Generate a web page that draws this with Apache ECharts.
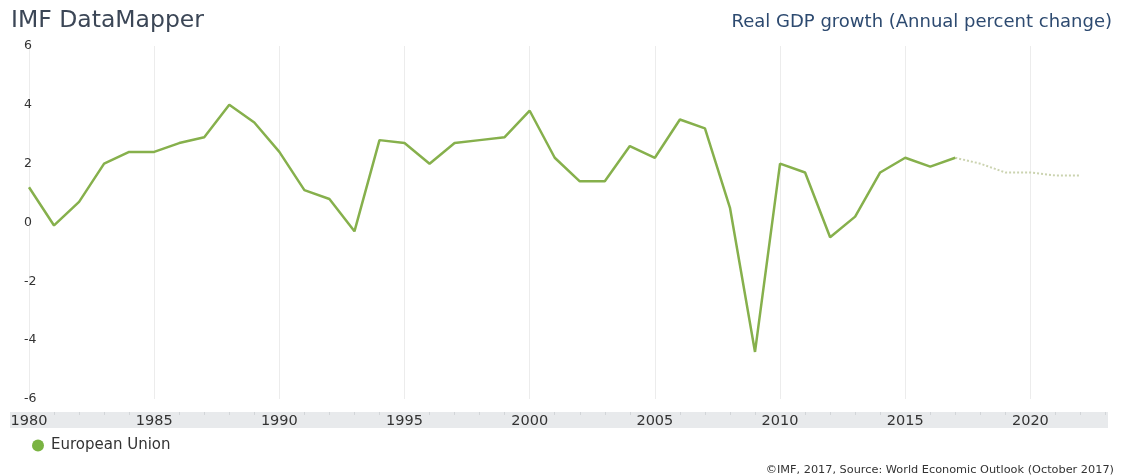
<!DOCTYPE html>
<html>
<head>
<meta charset="utf-8">
<script src="https://cdn.jsdelivr.net/npm/echarts@6/dist/echarts.min.js"></script>
<style>
  html, body { margin: 0; padding: 0; background: #fff; }
  #main { width: 1128px; height: 475px; }
</style>
</head>
<body>
<div id="main"></div>
<script>
  const years = [1980, 1981, 1982, 1983, 1984, 1985, 1986, 1987, 1988, 1989,
    1990, 1991, 1992, 1993, 1994, 1995, 1996, 1997, 1998, 1999,
    2000, 2001, 2002, 2003, 2004, 2005, 2006, 2007, 2008, 2009,
    2010, 2011, 2012, 2013, 2014, 2015, 2016, 2017]
  const growth = [1.2, -0.1, 0.7, 2.0, 2.4, 2.4, 2.7, 2.9, 4.0, 3.4,
    2.4, 1.1, 0.8, -0.3, 2.8, 2.7, 2.0, 2.7, 2.8, 2.9,
    3.8, 2.2, 1.4, 1.4, 2.6, 2.2, 3.5, 3.2, 0.5, -4.4,
    2.0, 1.7, -0.5, 0.2, 1.7, 2.2, 1.9, 2.2]
  const projYears = [2017, 2018, 2019, 2020, 2021, 2022]
  const projGrowth = [2.2, 2.0, 1.7, 1.7, 1.6, 1.6]

  const font = '"DejaVu Sans", "Open Sans", sans-serif'
  const chart = echarts.init(document.getElementById('main'))

  chart.setOption({
    animation: false,
    textStyle: { fontFamily: font },
    title: [
      {
        text: 'IMF DataMapper',
        left: 6, top: 4,
        textStyle: { fontSize: 23.5, fontWeight: 'normal', color: '#3b4656', fontFamily: font },
      },
      {
        text: 'Real GDP growth (Annual percent change)',
        right: 11, top: 8,
        textStyle: { fontSize: 18, fontWeight: 'normal', color: '#2d4a70', fontFamily: font },
      },
      {
        text: '©IMF, 2017, Source: World Economic Outlook (October 2017)',
        right: 9, top: 460,
        textStyle: { fontSize: 11.3, fontWeight: 'normal', color: '#333', fontFamily: font },
      },
    ],
    legend: {
      data: ['European Union'],
      left: 27, top: 433,
      icon: 'circle',
      itemWidth: 16, itemHeight: 12,
      itemGap: 9,
      textStyle: { fontSize: 15, color: '#333', fontFamily: font },
    },
    graphic: [
      {
        type: 'rect',
        shape: { x: 10, y: 412, width: 1098, height: 16 },
        style: { fill: '#e8eaec' },
        z: 0,
      },
    ],
    grid: { left: 29, right: 20, top: 46, bottom: 76 },
    xAxis: {
      type: 'value',
      min: 1980,
      max: 2023.1,
      interval: 5,
      offset: 13,
      axisLine: { show: false, onZero: false },
      axisTick: { show: false },
      minorTick: { show: true, splitNumber: 5, length: 3, lineStyle: { color: '#d2d5d8' } },
      axisLabel: {
        margin: 2,
        fontSize: 14.5,
        color: '#333',
        fontFamily: font,
        showMaxLabel: false,
        formatter: (v) => String(v),
      },
      splitLine: { show: true, showMaxLine: false, lineStyle: { color: '#ececec', width: 1 } },
    },
    yAxis: {
      type: 'value',
      min: -6,
      max: 6,
      interval: 2,
      axisLine: { show: false },
      axisTick: { show: false },
      axisLabel: {
        inside: true,
        margin: -5,
        align: 'left',
        fontSize: 12.5,
        color: '#333',
        fontFamily: font,
      },
      splitLine: { show: false },
    },
    series: [
      {
        name: 'European Union',
        type: 'line',
        data: years.map((y, i) => [y, growth[i]]),
        showSymbol: false,
        symbol: 'circle',
        color: '#7ab342',
        lineStyle: { width: 2.5, color: '#86b04c' },
        z: 3,
      },
      {
        name: 'European Union (projection)',
        type: 'line',
        data: projYears.map((y, i) => [y, projGrowth[i]]),
        showSymbol: false,
        lineStyle: { width: 2, type: 'dotted', color: '#cbd3b0' },
        z: 2,
      },
    ],
  })
</script>
</body>
</html>
